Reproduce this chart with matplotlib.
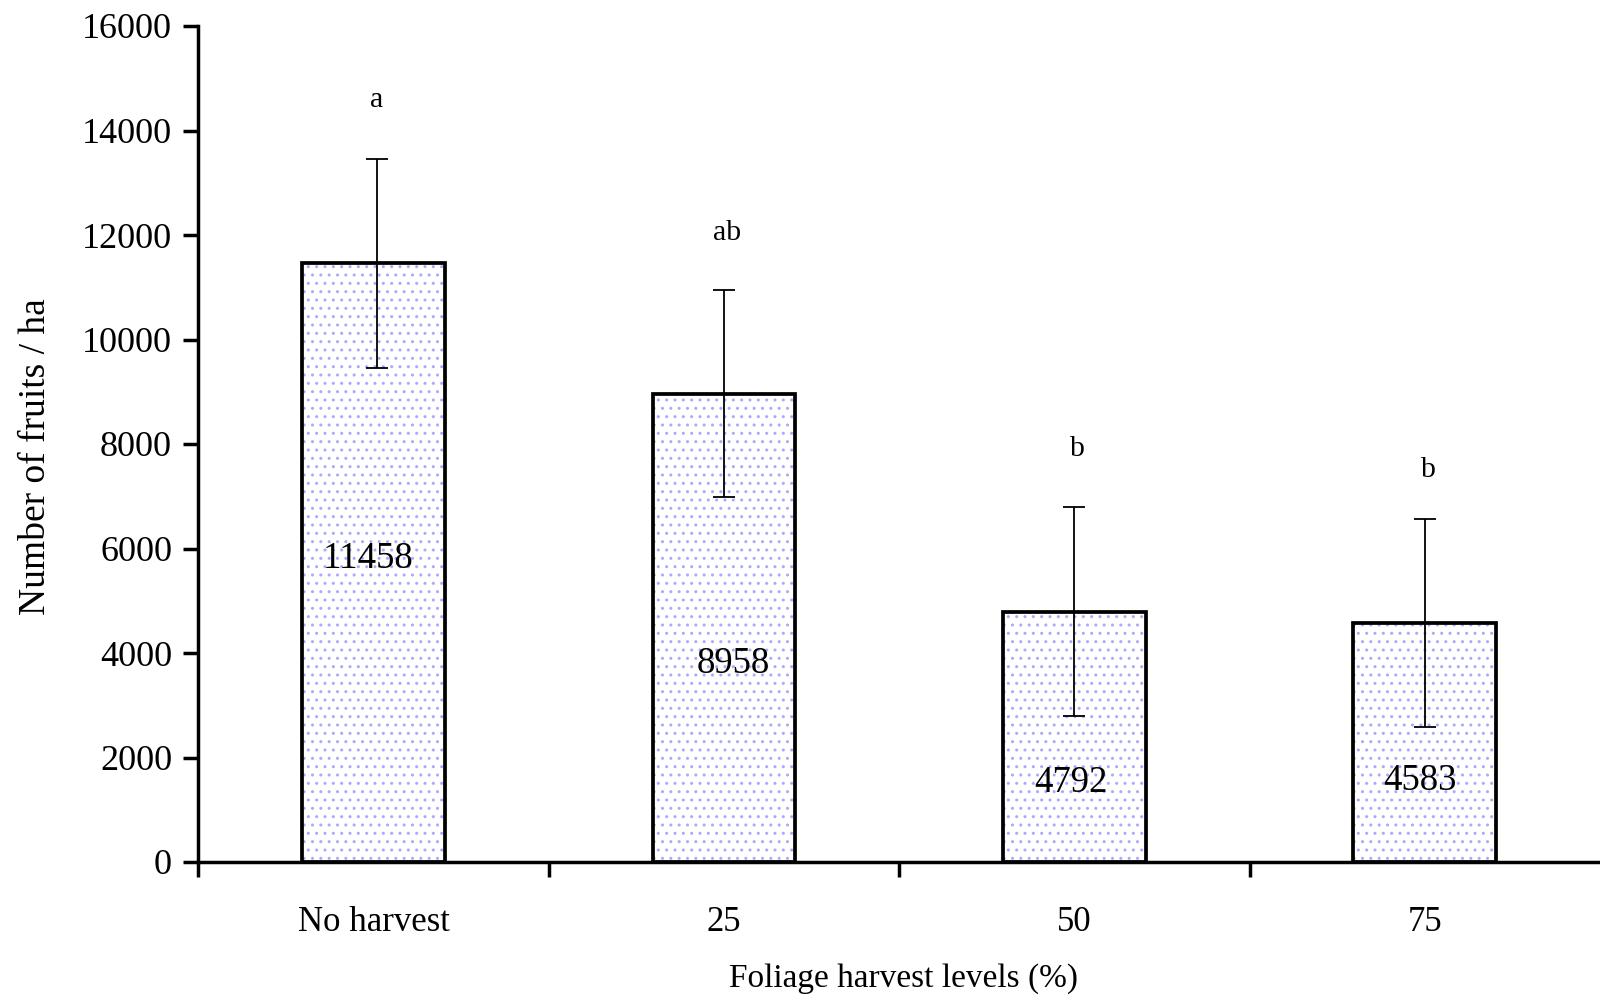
import matplotlib
matplotlib.use("Agg")
import matplotlib.pyplot as plt
import numpy as np

# Fruit counts per hectare under different foliage harvest levels
categories = ["No harvest", "25", "50", "75"]
means = [11458, 8958, 4792, 4583]
errors = [2000, 1980, 2000, 1990]
letters = ["a", "ab", "b", "b"]
yticks = [0, 2000, 4000, 6000, 8000, 10000, 12000, 14000, 16000]

plt.rcParams["font.family"] = ["Liberation Serif", "DejaVu Serif"]
plt.rcParams["hatch.linewidth"] = 1.0

fig = plt.figure(figsize=(16, 10), dpi=100)
ax = fig.add_axes([0.124, 0.138, 0.876, 0.836])

x = np.arange(len(categories))
width = 0.407

# dotted fill, then the black outline on top
ax.bar(x, means, width, color="white", edgecolor="#aaaafc", hatch="..",
       linewidth=0, zorder=2)
ax.bar(x, means, width, fill=False, edgecolor="black", linewidth=2.7, zorder=3)
ax.errorbar(x + np.array([0.01, 0.0, 0.0, 0.0]), means, yerr=errors, fmt="none",
            ecolor="black", elinewidth=1.3, capsize=8, capthick=1.3, zorder=4)

# value labels inside the bars
label_y = [5800, 3800, 1520, 1560]
label_dx = [-0.015, 0.025, -0.01, -0.015]
for xi, m, ly, dx in zip(x, means, label_y, label_dx):
    ax.text(xi + dx, ly, f"{m}", ha="center", va="center", fontsize=26.5, zorder=5)

# significance letters above the error bars
letter_gap = [1130, 1100, 1110, 920]
for xi, m, e, lt, g in zip(x, means, errors, letters, letter_gap):
    ax.text(xi + 0.01, m + e + g, lt, ha="center", va="center", fontsize=21.5)

ax.set_xlim(-0.5, 3.5)
ax.set_ylim(0, 16000)
ax.set_yticks(yticks)
ax.set_yticklabels([str(v) for v in yticks], fontsize=26)
ax.set_xticks([-0.5, 0.5, 1.5, 2.5])
ax.set_xticklabels([])
ax.set_xticks(x, minor=True)
ax.set_xticklabels(categories, minor=True, fontsize=25)
ax.tick_params(axis="x", which="minor", length=0, pad=32)
ax.tick_params(axis="x", which="major", direction="out", length=11, width=2.5)
ax.tick_params(axis="y", direction="out", length=11, width=2.5, pad=8)

for s in ["top", "right"]:
    ax.spines[s].set_visible(False)
for s in ["left", "bottom"]:
    ax.spines[s].set_linewidth(2.5)

ax.set_ylabel("Number of fruits / ha", fontsize=27)
ax.yaxis.set_label_coords(-0.116, 0.485)
ax.set_xlabel("Foliage harvest levels (%)", fontsize=24)
ax.xaxis.set_label_coords(0.503, -0.139)
ax.xaxis.label.set_va("center")
ax.yaxis.label.set_va("center")

fig.savefig("out.png", dpi=100)
